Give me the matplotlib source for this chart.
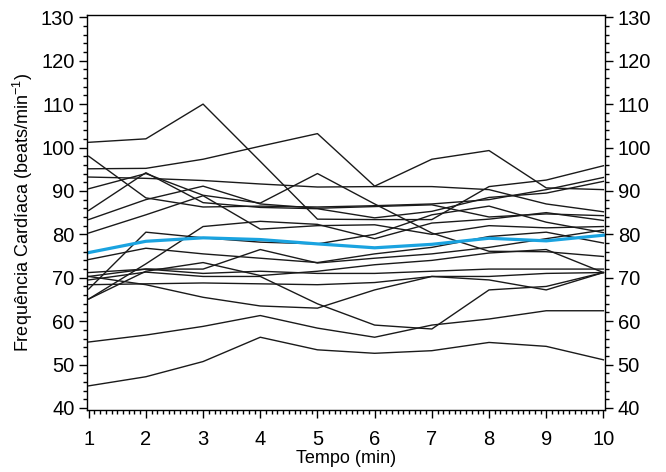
import matplotlib.pyplot as plt
from matplotlib.ticker import MultipleLocator

plt.rcParams['font.family'] = ['Liberation Sans', 'DejaVu Sans']
plt.rcParams['mathtext.fontset'] = 'custom'
plt.rcParams['mathtext.rm'] = 'Liberation Sans'
plt.rcParams['mathtext.it'] = 'Liberation Sans'

tempo = [1, 2, 3, 4, 5, 6, 7, 8, 9, 10]

# heart rate of each subject, one list per subject
subjects = [
    [101.2, 102.0, 110.0, 96.8, 83.5, 83.4, 83.4, 91.0, 92.5, 95.8],
    [95.1, 95.2, 97.3, 100.3, 103.2, 91.1, 97.3, 99.3, 90.7, 90.3],
    [98.0, 88.4, 86.3, 86.5, 86.3, 86.6, 87.0, 88.0, 90.3, 93.1],
    [93.2, 92.9, 92.4, 91.6, 90.9, 91.0, 91.0, 90.3, 87.0, 85.2],
    [90.5, 94.0, 89.0, 87.2, 94.0, 87.0, 80.3, 76.1, 76.0, 74.9],
    [85.5, 94.2, 87.3, 86.2, 85.9, 83.8, 85.3, 88.5, 89.5, 92.2],
    [83.4, 88.0, 91.1, 87.0, 86.0, 86.4, 86.8, 84.0, 84.7, 84.3],
    [80.3, 84.5, 88.9, 81.2, 82.0, 82.2, 80.0, 82.0, 81.5, 81.8],
    [65.1, 73.2, 81.8, 83.0, 82.3, 79.0, 82.6, 83.5, 85.0, 83.2],
    [67.4, 80.5, 79.2, 78.2, 77.8, 80.0, 84.5, 86.5, 82.8, 80.4],
    [74.2, 76.8, 75.5, 74.5, 73.5, 75.5, 77.0, 79.5, 80.5, 78.0],
    [71.2, 72.0, 72.0, 76.5, 73.4, 74.5, 75.5, 77.0, 79.0, 81.0],
    [65.1, 71.5, 73.5, 70.5, 71.5, 73.0, 74.0, 75.7, 76.5, 71.2],
    [69.5, 71.3, 70.3, 70.3, 64.0, 59.1, 58.2, 67.2, 68.0, 71.2],
    [70.3, 68.4, 65.5, 63.5, 63.0, 67.2, 70.3, 69.5, 67.2, 71.2],
    [68.4, 68.6, 68.8, 68.6, 68.4, 68.9, 70.3, 70.3, 71.0, 71.2],
    [70.3, 72.0, 71.0, 71.5, 71.0, 71.0, 71.5, 72.0, 72.0, 72.0],
    [55.2, 56.8, 58.8, 61.3, 58.4, 56.3, 59.1, 60.5, 62.4, 62.4],
    [45.1, 47.2, 50.7, 56.3, 53.4, 52.6, 53.2, 55.1, 54.2, 51.1],
]

# group mean
media = [75.8, 78.4, 79.2, 78.8, 77.8, 76.9, 77.7, 79.1, 78.5, 79.8]

fig = plt.figure(figsize=(6.66, 4.72), dpi=100)
ax = fig.add_axes([0.1306, 0.131, 0.778, 0.837])

for fc in subjects:
    ax.plot(tempo, fc, color='#1a1a1a', linewidth=1.0)
ax.plot(tempo, media, color='#1aa3e0', linewidth=2.3)

ax.set_xlim(0.97, 10.03)
ax.set_ylim(39.5, 130.5)
ax.xaxis.set_major_locator(MultipleLocator(1))
ax.xaxis.set_minor_locator(MultipleLocator(0.1))
ax.yaxis.set_major_locator(MultipleLocator(10))
ax.yaxis.set_minor_locator(MultipleLocator(2))

ax.tick_params(which='both', direction='out', colors='black', width=1.0,
               left=True, right=True, labelright=True, top=False)
ax.tick_params(which='major', length=6, labelsize=14.5, pad=3)
ax.tick_params(axis='x', which='major', pad=8)
ax.tick_params(which='minor', length=3)
for s in ax.spines.values():
    s.set_linewidth(1.0)

ax.set_xlabel('Tempo (min)', fontsize=13, labelpad=1)
ax.set_ylabel(r'Frequência Cardíaca (beats/min$^{-1}$)', fontsize=13,
              labelpad=4)

fig.savefig('out.png', dpi=100)
